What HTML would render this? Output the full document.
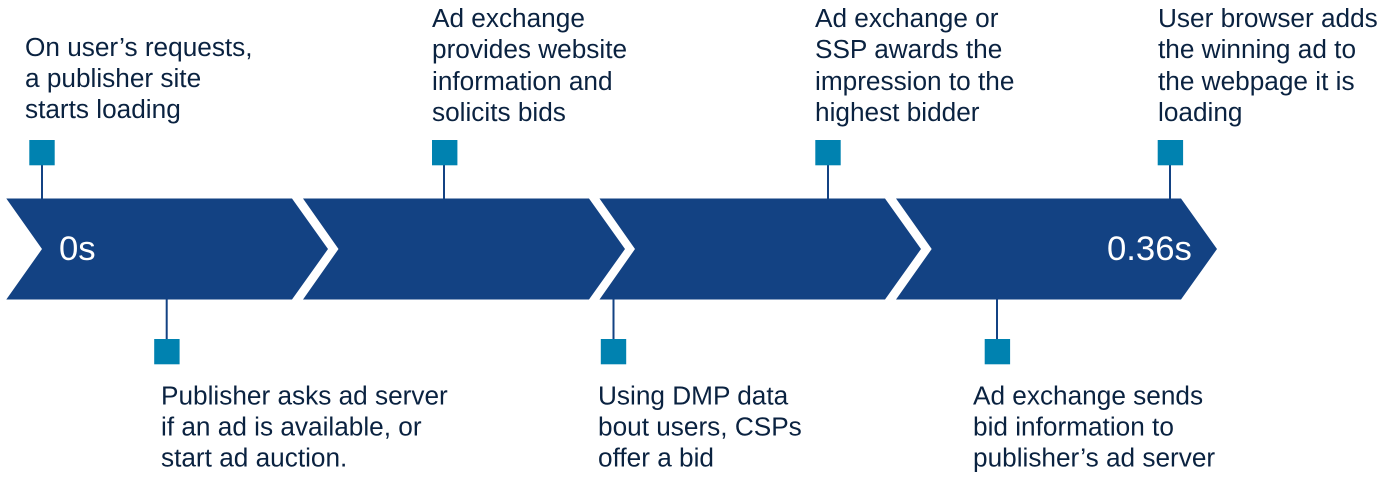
<!DOCTYPE html>
<html>
<head>
<meta charset="utf-8">
<style>
html,body{margin:0;padding:0;background:#fff;width:1382px;height:482px;overflow:hidden}
svg{display:block}
text{font-family:"Liberation Sans",Arial,sans-serif}
.t{font-size:26.2px;fill:#0a2240}
.w{font-size:34.7px;fill:#fff}
</style>
</head>
<body>
<svg width="1382" height="482" viewBox="0 0 1382 482" xmlns="http://www.w3.org/2000/svg">
<rect width="1382" height="482" fill="#fff"/>
<g stroke="#134283" stroke-width="2" fill="none">
<path d="M42 165V199M444 165V199M828 165V199M1170 165V199M166.7 299V339M613.5 299V339M997 299V339"/>
</g>
<g fill="#134283">
<polygon points="6.3,198.5 292,198.5 328,249 292,299.5 6.3,299.5 42,249"/>
<polygon points="303,198.5 589,198.5 625,249 589,299.5 303,299.5 338.5,249"/>
<polygon points="599.5,198.5 885,198.5 921,249 885,299.5 599.5,299.5 635,249"/>
<polygon points="896,198.5 1181,198.5 1217,249 1181,299.5 896,299.5 931.7,249"/>
</g>
<g fill="#0082b0">
<rect x="29.3" y="140" width="25.4" height="25.3"/>
<rect x="432" y="140" width="25.4" height="25.3"/>
<rect x="815.3" y="140" width="25.4" height="25.3"/>
<rect x="1157.7" y="140" width="25.4" height="25.3"/>
<rect x="154.2" y="339" width="25.4" height="25.3"/>
<rect x="600.8" y="339" width="25.4" height="25.3"/>
<rect x="984.7" y="339" width="25.4" height="25.3"/>
</g>
<text class="w" x="59" y="260">0s</text>
<text class="w" x="1107" y="260">0.36s</text>
<g class="t">
<text class="t" x="25" y="56">On user’s requests,</text>
<text class="t" x="25" y="87">a publisher site</text>
<text class="t" x="25" y="118">starts loading</text>
<text class="t" x="432" y="27">Ad exchange</text>
<text class="t" x="432" y="58">provides website</text>
<text class="t" x="432" y="90">information and</text>
<text class="t" x="432" y="121">solicits bids</text>
<text class="t" x="815" y="27">Ad exchange or</text>
<text class="t" x="815" y="58">SSP awards the</text>
<text class="t" x="815" y="90">impression to the</text>
<text class="t" x="815" y="121">highest bidder</text>
<text class="t" x="1158" y="27">User browser adds</text>
<text class="t" x="1158" y="58">the winning ad to</text>
<text class="t" x="1158" y="90">the webpage it is</text>
<text class="t" x="1158" y="121">loading</text>
<text class="t" x="161" y="404.5">Publisher asks ad server</text>
<text class="t" x="161" y="435.5">if an ad is available, or</text>
<text class="t" x="161" y="466.5">start ad auction.</text>
<text class="t" x="598" y="404.5">Using DMP data</text>
<text class="t" x="598" y="435.5">bout users, CSPs</text>
<text class="t" x="598" y="466.5">offer a bid</text>
<text class="t" x="973" y="404.5">Ad exchange sends</text>
<text class="t" x="973" y="435.5">bid information to</text>
<text class="t" x="973" y="466.5">publisher’s ad server</text>
</g>
</svg>
</body>
</html>
